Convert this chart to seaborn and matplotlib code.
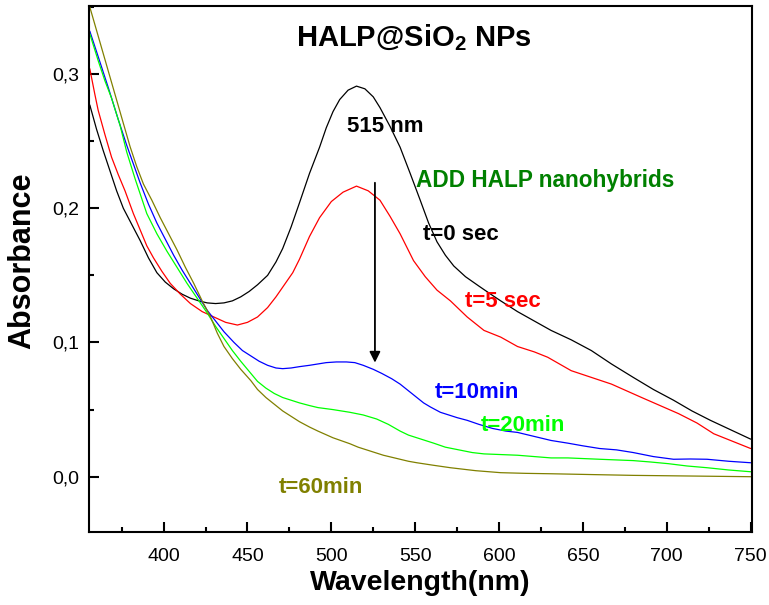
import matplotlib
matplotlib.use("Agg")
import matplotlib.pyplot as plt
from matplotlib.ticker import MultipleLocator, FuncFormatter
import seaborn as sns
import pandas as pd

# UV-vis spectra (wavelength nm, absorbance)
wl_0s = [356, 360, 364, 368, 372, 376, 381, 386, 391, 396, 401, 406, 411, 416, 421,
         426, 431, 436, 441, 446, 451, 456, 462, 467, 471, 476, 481, 487, 493, 497,
         501, 505, 510, 515, 520, 525, 529, 535, 541, 547, 553, 558, 563, 568, 573,
         580, 588, 595, 601, 611, 621, 631, 643, 655, 667, 680, 692, 704, 715, 726,
         738, 750]
abs_0s = [0.277, 0.259, 0.243, 0.228, 0.213, 0.200, 0.188, 0.176, 0.163, 0.152, 0.145,
          0.140, 0.136, 0.133, 0.131, 0.1295, 0.129, 0.1295, 0.131, 0.134, 0.138, 0.143,
          0.150, 0.160, 0.170, 0.186, 0.204, 0.226, 0.2455, 0.260, 0.272, 0.281, 0.288,
          0.291, 0.289, 0.283, 0.275, 0.261, 0.2455, 0.226, 0.206, 0.189, 0.175, 0.165,
          0.157, 0.149, 0.142, 0.136, 0.131, 0.123, 0.116, 0.109, 0.102, 0.094, 0.084,
          0.074, 0.065, 0.057, 0.049, 0.042, 0.035, 0.028]

wl_5s = [356, 359, 361, 365, 369, 373, 377, 382, 386, 390, 394, 399, 404, 410, 416,
         423, 430, 437, 444, 450, 456, 462, 467, 472, 477, 481, 487, 493, 500, 507,
         515, 522, 529, 535, 541, 545, 549, 556, 563, 571, 581, 591, 601, 611, 621,
         629, 636, 643, 655, 667, 676, 685, 696, 707, 718, 728, 740, 750]
abs_5s = [0.304, 0.285, 0.273, 0.255, 0.238, 0.225, 0.213, 0.196, 0.184, 0.172, 0.163,
          0.153, 0.144, 0.136, 0.129, 0.123, 0.119, 0.115, 0.113, 0.115, 0.119, 0.126,
          0.134, 0.143, 0.152, 0.162, 0.179, 0.193, 0.205, 0.212, 0.2165, 0.213, 0.206,
          0.194, 0.181, 0.171, 0.161, 0.149, 0.139, 0.131, 0.119, 0.109, 0.104, 0.097,
          0.093, 0.089, 0.084, 0.079, 0.074, 0.069, 0.064, 0.059, 0.053, 0.047, 0.040,
          0.032, 0.026, 0.021]

wl_10m = [356, 361, 367, 373, 378, 382, 386, 391, 396, 401, 406, 411, 416, 421, 426,
          431, 436, 442, 447, 452, 457, 462, 467, 471, 476, 481, 487, 492, 497, 503,
          509, 514, 519, 525, 530, 536, 541, 546, 550, 555, 559, 565, 570, 575, 581,
          588, 596, 604, 611, 621, 631, 641, 650, 660, 670, 680, 692, 704, 714, 724,
          737, 750]
abs_10m = [0.332, 0.313, 0.290, 0.266, 0.247, 0.233, 0.219, 0.203, 0.189, 0.177, 0.165,
           0.154, 0.144, 0.134, 0.124, 0.116, 0.108, 0.100, 0.094, 0.090, 0.086, 0.083,
           0.081, 0.0805, 0.081, 0.082, 0.083, 0.084, 0.085, 0.0855, 0.0855, 0.085,
           0.083, 0.080, 0.077, 0.073, 0.069, 0.064, 0.060, 0.055, 0.052, 0.048, 0.046,
           0.044, 0.042, 0.039, 0.036, 0.034, 0.033, 0.030, 0.027, 0.025, 0.023, 0.021,
           0.020, 0.018, 0.015, 0.013, 0.0132, 0.013, 0.0115, 0.0104]

wl_20m = [356, 361, 365, 369, 374, 378, 383, 390, 396, 402, 408, 414, 420, 426, 431,
          436, 441, 446, 452, 456, 461, 466, 471, 476, 481, 487, 492, 501, 511, 519,
          527, 534, 541, 546, 551, 556, 561, 568, 576, 584, 591, 601, 611, 621, 631,
          641, 660, 680, 690, 701, 712, 724, 737, 750]
abs_20m = [0.330, 0.310, 0.295, 0.282, 0.262, 0.242, 0.222, 0.196, 0.181, 0.168, 0.156,
           0.144, 0.133, 0.122, 0.112, 0.103, 0.094, 0.086, 0.077, 0.071, 0.066, 0.062,
           0.059, 0.057, 0.055, 0.053, 0.0515, 0.050, 0.048, 0.046, 0.043, 0.039, 0.034,
           0.031, 0.029, 0.027, 0.025, 0.022, 0.020, 0.018, 0.017, 0.0165, 0.016, 0.015,
           0.014, 0.014, 0.013, 0.012, 0.011, 0.0097, 0.008, 0.0067, 0.005, 0.0037]

wl_60m = [356, 359, 362, 365, 368, 371, 374, 377, 380, 384, 388, 393, 398, 403, 408,
          413, 418, 423, 428, 432, 436, 441, 446, 452, 456, 461, 466, 471, 476, 481,
          487, 492, 501, 511, 516, 521, 526, 531, 536, 541, 546, 551, 561, 571, 586,
          601, 616, 631, 655, 680, 715, 750]
abs_60m = [0.350, 0.337, 0.324, 0.311, 0.298, 0.285, 0.272, 0.259, 0.246, 0.231, 0.218,
           0.206, 0.193, 0.181, 0.169, 0.156, 0.144, 0.131, 0.119, 0.107, 0.097, 0.088,
           0.080, 0.0716, 0.065, 0.059, 0.054, 0.049, 0.045, 0.041, 0.037, 0.034, 0.029,
           0.0246, 0.022, 0.020, 0.018, 0.016, 0.0145, 0.013, 0.0115, 0.0104, 0.0085,
           0.0067, 0.0045, 0.003, 0.0025, 0.0022, 0.0016, 0.001, 0.0005, 0.0]

series = ["t=0 sec", "t=5 sec", "t=10min", "t=20min", "t=60min"]
colors = ["#000000", "#FF0000", "#0000FF", "#00FF00", "#808000"]

frames = []
for name, wl, ab in zip(series, [wl_0s, wl_5s, wl_10m, wl_20m, wl_60m],
                        [abs_0s, abs_5s, abs_10m, abs_20m, abs_60m]):
    frames.append(pd.DataFrame({"wavelength": wl, "absorbance": ab, "time": name}))
df = pd.concat(frames, ignore_index=True)

sns.set_style("white")
plt.rcParams["font.family"] = ["Liberation Sans", "DejaVu Sans"]
plt.rcParams["mathtext.fontset"] = "custom"
plt.rcParams["mathtext.rm"] = "Liberation Sans"
plt.rcParams["mathtext.bf"] = "Liberation Sans:bold"
for key in ["text.color", "axes.labelcolor", "xtick.color", "ytick.color", "axes.edgecolor"]:
    plt.rcParams[key] = "black"

fig = plt.figure(figsize=(7.69, 6.05), dpi=100)
ax = fig.add_axes([0.1161, 0.1202, 0.8618, 0.8699])

sns.lineplot(data=df, x="wavelength", y="absorbance", hue="time", palette=colors,
             hue_order=series, estimator=None, sort=False, linewidth=0.9,
             legend=False, ax=ax)

ax.set_xlim(355.7, 750.8)
ax.set_ylim(-0.0414, 0.3507)

ax.xaxis.set_major_locator(MultipleLocator(50))
ax.xaxis.set_minor_locator(MultipleLocator(25))
ax.yaxis.set_major_locator(MultipleLocator(0.1))
ax.yaxis.set_minor_locator(MultipleLocator(0.05))
ax.yaxis.set_major_formatter(FuncFormatter(lambda v, p: f"{v:.1f}".replace(".", ",").replace("-0,0", "0,0")))
ax.xaxis.set_major_formatter(FuncFormatter(lambda v, p: f"{v:.0f}"))

ax.tick_params(which="both", direction="in", bottom=True, left=True, top=False,
               right=False, width=1.5, labelsize=14, color="black", labelcolor="black")
ax.tick_params(which="major", length=7)
ax.tick_params(which="minor", length=3.6)
ax.tick_params(axis="x", which="major", pad=11.5)
ax.tick_params(axis="y", which="major", pad=7.5)

for s in ax.spines.values():
    s.set_visible(True)
    s.set_linewidth(1.5)
    s.set_color("black")

ax.set_xlabel("Wavelength(nm)", fontsize=20.5, fontweight="bold", labelpad=3.5)
ax.set_ylabel("Absorbance", fontsize=22, fontweight="bold")
ax.yaxis.set_label_coords(-0.078, 0.515)

ax.text(549, 0.327, r"HALP@SiO$_{\mathbf{2}}$ NPs", fontsize=21, fontweight="bold",
        ha="center", va="center")
ax.text(509.1, 0.261, "515 nm", fontsize=16, fontweight="bold", ha="left", va="center")
ax.text(550.6, 0.2206, "ADD HALP nanohybrids", fontsize=16.3, fontweight="bold",
        color="#008000", ha="left", va="center")

label_x = [554.8, 579.7, 561.9, 589.2, 468.8]
label_y = [0.1803, 0.1304, 0.0626, 0.038, -0.0082]
for name, c, lx, ly in zip(series, colors, label_x, label_y):
    ax.text(lx, ly, name, fontsize=16, fontweight="bold", color=c, ha="left", va="center")

ax.annotate("", xy=(526, 0.085), xytext=(526, 0.219),
            arrowprops=dict(arrowstyle="-|>", color="black", lw=1.3,
                            mutation_scale=16, shrinkA=0, shrinkB=0))

fig.savefig("out.png", dpi=100)
